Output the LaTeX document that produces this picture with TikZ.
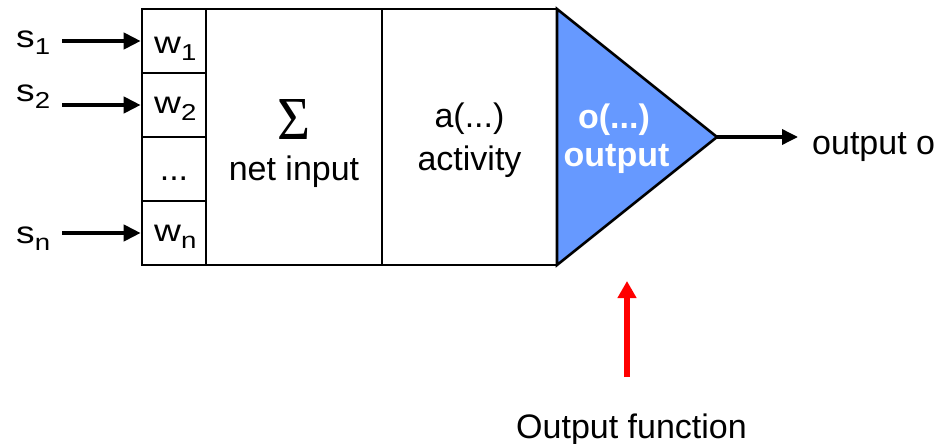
\documentclass[tikz,border=0pt]{standalone}
\usepackage{fontspec}
\setmainfont{Liberation Sans}
\newfontfamily\widefont[FakeStretch=1.2]{Liberation Sans}
\newfontfamily\sigmafont{Liberation Serif}
\usetikzlibrary{arrows.meta}
\definecolor{outblue}{RGB}{102,153,255}
\definecolor{pointred}{RGB}{255,0,0}
% symbol with a lowered index, set wide as in the drawing
\newcommand{\symsub}[2]{{\fontsize{31}{31}\selectfont\widefont #1}\raisebox{-7pt}{\fontsize{23}{23}\selectfont\widefont #2}}

\begin{document}
\begin{tikzpicture}[x=1pt,y=-1pt,
  frame/.style={draw=black,line width=2.6pt},
  cell/.style={frame,minimum width=64pt,minimum height=64pt,inner sep=0pt},
  stage/.style={frame,minimum height=256pt,inner sep=0pt},
  txt/.style={inner sep=0pt,font=\fontsize{34}{40}\selectfont},
  wtxt/.style={inner sep=0pt,anchor=base west},
  btxt/.style={inner sep=0pt,text=white,font=\fontsize{34}{40}\selectfont\bfseries},
  inarrow/.style={line width=4pt,-{Triangle[length=17pt,width=16pt]}},
  outarrow/.style={line width=3.5pt,-{Triangle[length=16pt,width=15pt]}},
  redarrow/.style={draw=pointred,line width=6.5pt,-{Triangle[length=17pt,width=18pt]}}
]
\useasboundingbox (0,0) rectangle (942,444);

% weight column
\node[cell] (w1) at (174,41) {};
\node[cell] (w2) at (174,105) {};
\node[cell] (w3) at (174,169) {};
\node[cell] (w4) at (174,233) {};

% summation and activation stages
\node[stage,minimum width=176pt] (sum) at (294,137) {};
\node[stage,minimum width=175pt] (act) at (469.5,137) {};

% output stage (triangle)
\coordinate (ttop) at (557,9);
\coordinate (apex) at (717,137);
\coordinate (tbot) at (557,265);
\filldraw[fill=outblue,draw=black,line width=2.6pt,line join=miter] (ttop) -- (apex) -- (tbot) -- cycle;

% inputs
\node[wtxt] (s1) at (16,48) {\symsub{s}{1}};
\node[wtxt] (s2) at (16,101) {\symsub{s}{2}};
\node[wtxt] (sn) at (16,243) {\symsub{s}{n}};
\coordinate (s1o) at (62,41);
\coordinate (s2o) at (62,105);
\coordinate (sno) at (62,233);
\draw[inarrow] (s1o) -- (w1.west);
\draw[inarrow] (s2o) -- (w2.west);
\draw[inarrow] (sno) -- (w4.west);

% weight labels
\node[wtxt] (w1t) at (154,53) {\symsub{w}{1}};
\node[wtxt] (w2t) at (154,113) {\symsub{w}{2}};
\node[txt,anchor=base] (w3t) at (174,180) {...};
\node[wtxt] (w4t) at (154,241) {\symsub{w}{n}};

% stage texts
\node[inner sep=0pt] (sigma) at (293.5,119.5) {\resizebox{33pt}{40pt}{\sigmafont Σ}};
\node[txt,anchor=base] (net) at (294,180) {net input};
\node[txt,anchor=base] (afn) at (469.5,127) {a(...)};
\node[txt,anchor=base] (actv) at (469.5,170) {activity};
\node[btxt,anchor=base] (ofn) at (614,128) {o(...)};
\node[btxt,anchor=base] (outp) at (616.5,166) {output};

% result
\node[txt,anchor=base west] (res) at (812,154) {output o};
\coordinate (oend) at (798,137);
\draw[outarrow] (apex) -- (oend);

% pointer to the output function
\node[txt,anchor=base] (ofun) at (631.5,438) {Output function};
\coordinate (rtail) at (627,377);
\coordinate (rtip) at (627,281);
\draw[redarrow] (rtail) -- (rtip);
\end{tikzpicture}
\end{document}
